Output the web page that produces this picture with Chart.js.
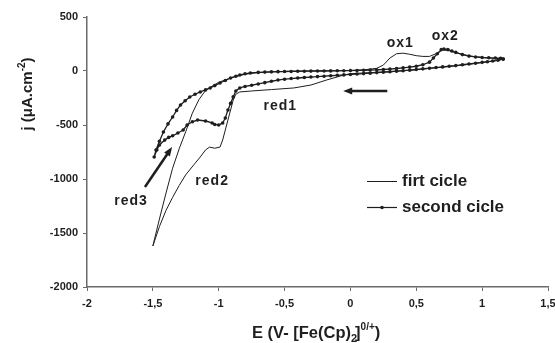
<!DOCTYPE html>
<html lang="en">
<head>
<meta charset="UTF-8">
<title>Cyclic voltammogram</title>
<script src="https://cdn.jsdelivr.net/npm/chart.js@4.4.1/dist/chart.umd.min.js"></script>
<style>
  html, body { margin: 0; padding: 0; background: #fff; }
  #wrap { position: relative; width: 555px; height: 343px; }
</style>
</head>
<body>
<div id="wrap"><canvas id="cv"></canvas></div>
<script>
// tick values
const xTicks = [-2, -1.5, -1, -0.5, 0, 0.5, 1, 1.5];
const yTicks = [-2000, -1500, -1000, -500, 0, 500];

const seriesNames = ['firt cicle', 'second cicle'];
const peakNames = ['ox1', 'ox2', 'red1', 'red2', 'red3'];

// first cycle (thin line), E in V, j in uA.cm-2
// starts at the positive end and goes cathodic, then back
const e1 = [1.16, 1.1, 1.0, 0.9, 0.8, 0.7, 0.6, 0.5, 0.4, 0.3, 0.2, 0.1, 0.0, -0.05, -0.1, -0.18, -0.3, -0.43,
  -0.6, -0.75, -0.84, -0.87, -0.89, -0.93, -0.97, -0.99, -1.03, -1.07, -1.1, -1.14, -1.19, -1.25, -1.3, -1.35,
  -1.4, -1.45, -1.5,
  -1.45, -1.4, -1.35, -1.3, -1.25, -1.2, -1.15, -1.1, -1.05, -1.0, -0.9, -0.8, -0.7, -0.6, -0.5, -0.4, -0.2,
  0.0, 0.1, 0.2, 0.25, 0.3, 0.35, 0.4, 0.45, 0.5, 0.55, 0.6, 0.65, 0.7, 0.75, 0.8, 0.9, 1.0, 1.1, 1.16];
const j1 = [110, 95, 78, 62, 48, 36, 24, 12, 2, -6, -12, -18, -25, -37, -55, -83, -130, -157,
  -172, -185, -194, -215, -269, -454, -639, -704, -715, -705, -731, -796, -870, -960, -1060, -1170,
  -1290, -1440, -1620,
  -1370, -1130, -900, -720, -560, -390, -265, -180, -140, -105, -60, -30, -15, -8, -3, 0, 2,
  5, 10, 25, 55, 120, 160, 165, 155, 142, 135, 135, 160, 195, 188, 170, 140, 125, 118, 110];

// second cycle (line with markers)
const e2 = [1.16, 1.12, 1.08, 1.04, 1.0, 0.95, 0.9, 0.85, 0.8, 0.75, 0.7, 0.65, 0.6, 0.55, 0.5, 0.45, 0.4,
  0.35, 0.3, 0.25, 0.2, 0.15, 0.1, 0.05, 0.0, -0.05, -0.1, -0.15, -0.2, -0.25, -0.3, -0.35, -0.4, -0.45,
  -0.5, -0.55, -0.6, -0.65, -0.7, -0.75, -0.8, -0.84, -0.87, -0.89, -0.91, -0.93, -0.95, -0.97, -1.0,
  -1.03, -1.05, -1.1, -1.16, -1.2, -1.24, -1.27, -1.31, -1.35, -1.38, -1.41, -1.45, -1.47, -1.49,
  -1.476, -1.45, -1.42, -1.385, -1.35, -1.32, -1.29, -1.255, -1.22, -1.18, -1.14, -1.1, -1.065, -1.03,
  -0.99, -0.95, -0.91, -0.87, -0.84, -0.8, -0.76, -0.7, -0.65, -0.6, -0.55, -0.5, -0.45, -0.4, -0.35,
  -0.3, -0.25, -0.2, -0.15, -0.1, -0.05, 0.0, 0.05, 0.1, 0.15, 0.2, 0.25, 0.3, 0.35, 0.4, 0.45, 0.5,
  0.55, 0.6, 0.63, 0.66, 0.69, 0.71, 0.74, 0.77, 0.8, 0.85, 0.9, 0.95, 1.0, 1.05, 1.1, 1.14, 1.16];
const j2 = [110, 100, 92, 86, 80, 72, 65, 58, 50, 44, 38, 32, 26, 20, 14, 8, 3,
  -2, -7, -11, -15, -20, -24, -28, -32, -36, -40, -44, -48, -52, -56, -60, -65, -70,
  -76, -84, -95, -108, -120, -132, -143, -157, -185, -240, -300, -361, -435, -481, -500,
  -495, -481, -463, -454, -470, -500, -546, -574, -600, -615, -640, -685, -731, -796,
  -731, -650, -565, -490, -426, -365, -315, -275, -241, -215, -194, -175, -157, -135,
  -111, -88, -65, -48, -37, -26, -18, -13, -10, -8, -6, -5, -4, -3, -2,
  -1, 0, 0, 1, 2, 3, 4, 5, 7, 9, 11, 14, 18, 23, 29, 36, 44,
  58, 82, 120, 160, 198, 204, 198, 185, 172, 152, 138, 130, 125, 122, 120, 118, 110];

const FONT = "'Liberation Sans', Arial, sans-serif";
const INK = '#1e1e1e';
const AXIS = '#6b6b6b';

Chart.defaults.font.family = FONT;

function toPoints(xs, ys) {
  return xs.map((x, i) => ({ x: x, y: ys[i] }));
}

function arrow(ctx, x0, y0, x1, y1) {
  const a = Math.atan2(y1 - y0, x1 - x0);
  const head = 9;
  ctx.lineWidth = 2.5;
  ctx.beginPath();
  ctx.moveTo(x0, y0);
  ctx.lineTo(x1 - Math.cos(a) * head * 0.8, y1 - Math.sin(a) * head * 0.8);
  ctx.stroke();
  ctx.beginPath();
  ctx.moveTo(x1, y1);
  ctx.lineTo(x1 - head * Math.cos(a) + 3.5 * Math.sin(a), y1 - head * Math.sin(a) - 3.5 * Math.cos(a));
  ctx.lineTo(x1 - head * Math.cos(a) - 3.5 * Math.sin(a), y1 - head * Math.sin(a) + 3.5 * Math.cos(a));
  ctx.closePath();
  ctx.fill();
}

// labels, arrows, legend and axis titles
const overlay = {
  id: 'overlay',
  afterDraw(chart) {
    const ctx = chart.ctx;
    const px = v => chart.scales.x.getPixelForValue(v);
    const py = v => chart.scales.y.getPixelForValue(v);
    ctx.save();
    ctx.fillStyle = INK;
    ctx.strokeStyle = INK;

    // peak names (E, j of their centre)
    const at = [[0.378, 259], [0.72, 324], [-0.533, -324], [-1.05, -1019], [-1.666, -1204]];
    ctx.font = 'bold 14px ' + FONT;
    ctx.letterSpacing = '1px';
    ctx.textAlign = 'center';
    ctx.textBaseline = 'middle';
    peakNames.forEach((t, i) => ctx.fillText(t, px(at[i][0]), py(at[i][1])));
    ctx.letterSpacing = '0px';

    // sweep arrows
    arrow(ctx, px(0.28), py(-185), px(-0.055), py(-185));
    arrow(ctx, px(-1.56), py(-1074), px(-1.354), py(-704));

    // legend
    ctx.lineWidth = 1;
    ctx.beginPath(); ctx.moveTo(367, 181.5); ctx.lineTo(397, 181.5); ctx.stroke();
    ctx.lineWidth = 1.2;
    ctx.beginPath(); ctx.moveTo(367, 207.5); ctx.lineTo(397, 207.5); ctx.stroke();
    ctx.beginPath(); ctx.arc(382, 207.5, 1.8, 0, Math.PI * 2); ctx.fill();
    ctx.font = 'bold 17px ' + FONT;
    ctx.textAlign = 'left';
    ctx.fillText(seriesNames[0], 402, 181);
    ctx.fillText(seriesNames[1], 402, 207);

    // x title: E (V- [Fe(Cp)2]0/+)
    ctx.textBaseline = 'alphabetic';
    let x = 252, base = 338;
    const part = (txt, size, dy) => {
      ctx.font = 'bold ' + size + 'px ' + FONT;
      ctx.fillText(txt, x, base + dy);
      x += ctx.measureText(txt).width;
    };
    part('E (V- [Fe(Cp)', 16.5, 0);
    part('2', 11, 4);
    x -= 2;
    part(']', 16.5, 0);
    part('0/+', 10, -8);
    part(')', 16.5, 0);

    // y title: j (uA.cm-2), rotated
    ctx.translate(32, 94);
    ctx.rotate(-Math.PI / 2);
    ctx.font = 'bold 15px ' + FONT;
    const w1 = ctx.measureText('j (\u03bcA.cm').width;
    ctx.font = 'bold 10px ' + FONT;
    const w2 = ctx.measureText('-2').width;
    ctx.font = 'bold 15px ' + FONT;
    const w3 = ctx.measureText(')').width;
    let t = -(w1 + w2 + w3) / 2;
    ctx.fillText('j (\u03bcA.cm', t, 0); t += w1;
    ctx.font = 'bold 10px ' + FONT;
    ctx.fillText('-2', t, -7); t += w2;
    ctx.font = 'bold 15px ' + FONT;
    ctx.fillText(')', t, 0);
    ctx.restore();
  }
};

new Chart(document.getElementById('cv'), {
  type: 'scatter',
  data: {
    datasets: [
      {
        label: seriesNames[0],
        data: toPoints(e1, j1),
        showLine: true,
        borderColor: INK,
        borderWidth: 1,
        pointRadius: 0,
        tension: 0
      },
      {
        label: seriesNames[1],
        data: toPoints(e2, j2),
        showLine: true,
        borderColor: INK,
        borderWidth: 1.3,
        pointRadius: 1.8,
        pointBackgroundColor: INK,
        pointBorderWidth: 0,
        tension: 0
      }
    ]
  },
  options: {
    responsive: true,
    maintainAspectRatio: false,
    animation: false,
    layout: { padding: { left: 0, top: 17, right: 7, bottom: 0 } },
    plugins: { legend: { display: false }, tooltip: { enabled: false } },
    scales: {
      x: {
        type: 'linear',
        min: xTicks[0],
        max: xTicks[xTicks.length - 1],
        afterBuildTicks: s => { s.ticks = xTicks.map(v => ({ value: v })); },
        afterFit: s => { s.height = 56; s.paddingLeft = 0; s.paddingRight = 0; },
        grid: { drawOnChartArea: false, drawTicks: true, tickLength: 4, color: AXIS },
        border: { color: AXIS, width: 1.5 },
        ticks: {
          padding: 6, color: INK, maxRotation: 0, autoSkip: false,
          font: { size: 11, weight: 'bold' },
          callback: v => String(v).replace('.', ',')
        }
      },
      y: {
        type: 'linear',
        min: yTicks[0],
        max: yTicks[yTicks.length - 1],
        afterBuildTicks: s => { s.ticks = yTicks.map(v => ({ value: v })); },
        afterFit: s => { s.width = 87; s.paddingTop = 0; s.paddingBottom = 0; },
        grid: { drawOnChartArea: false, drawTicks: true, tickLength: 4, color: AXIS },
        border: { color: AXIS, width: 1.5 },
        ticks: {
          padding: 5, color: INK, autoSkip: false,
          font: { size: 11, weight: 'bold' },
          callback: v => String(v)
        }
      }
    }
  },
  plugins: [overlay]
});
</script>
</body>
</html>
